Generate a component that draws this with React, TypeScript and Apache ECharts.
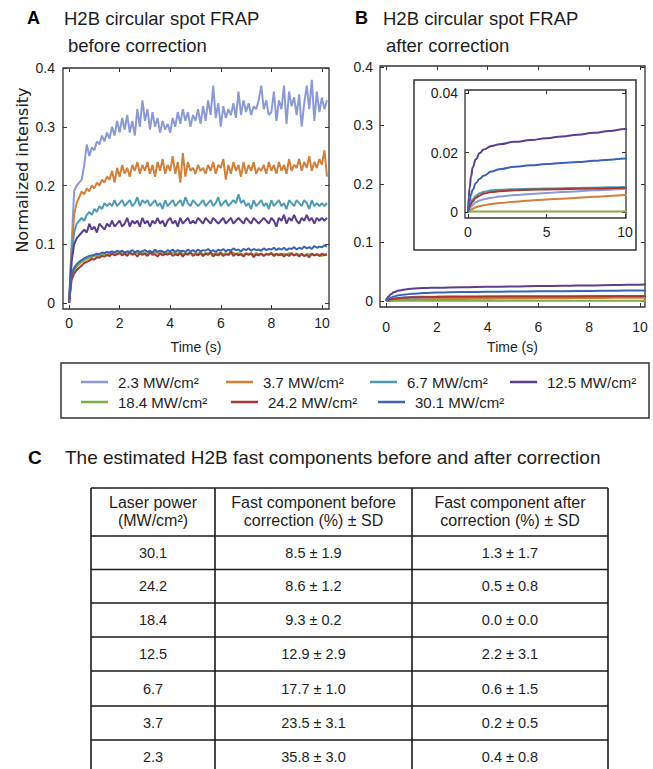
import React, { useEffect, useRef } from "react";
import * as echarts from "echarts";

// ---------- data ----------
const POWER_LABELS = [
  "2.3 MW/cm²",
  "3.7 MW/cm²",
  "6.7 MW/cm²",
  "12.5 MW/cm²",
  "18.4 MW/cm²",
  "24.2 MW/cm²",
  "30.1 MW/cm²",
];

// Panel A time samples (s)
const TIME_A = [
  0, 0.1, 0.2, 0.3, 0.4, 0.5, 0.6, 0.7, 0.8, 0.9,
  1.0, 1.1, 1.2, 1.3, 1.4, 1.5, 1.6, 1.7, 1.8, 1.9,
  2.0, 2.1, 2.2, 2.3, 2.4, 2.5, 2.6, 2.7, 2.8, 2.9,
  3.0, 3.1, 3.2, 3.3, 3.4, 3.5, 3.6, 3.7, 3.8, 3.9,
  4.0, 4.1, 4.2, 4.3, 4.4, 4.5, 4.6, 4.7, 4.8, 4.9,
  5.0, 5.1, 5.2, 5.3, 5.4, 5.5, 5.6, 5.7, 5.8, 5.9,
  6.0, 6.1, 6.2, 6.3, 6.4, 6.5, 6.6, 6.7, 6.8, 6.9,
  7.0, 7.1, 7.2, 7.3, 7.4, 7.5, 7.6, 7.7, 7.8, 7.9,
  8.0, 8.1, 8.2, 8.3, 8.4, 8.5, 8.6, 8.7, 8.8, 8.9,
  9.0, 9.1, 9.2, 9.3, 9.4, 9.5, 9.6, 9.7, 9.8, 9.9,
  10.0, 10.1, 10.2,
];

// Panel A: normalized intensity before correction
const RAW_2_3 = [
  0, 0.10, 0.19, 0.20, 0.205, 0.21, 0.235, 0.27, 0.25, 0.265,
  0.26, 0.275, 0.27, 0.285, 0.275, 0.29, 0.28, 0.30, 0.285, 0.31,
  0.29, 0.315, 0.295, 0.32, 0.29, 0.31, 0.285, 0.33, 0.30, 0.345,
  0.31, 0.33, 0.295, 0.325, 0.30, 0.315, 0.29, 0.31, 0.295, 0.305,
  0.29, 0.315, 0.30, 0.325, 0.305, 0.33, 0.31, 0.325, 0.30, 0.32,
  0.31, 0.33, 0.305, 0.335, 0.31, 0.345, 0.32, 0.37, 0.315, 0.34,
  0.30, 0.335, 0.315, 0.33, 0.32, 0.34, 0.315, 0.36, 0.32, 0.345,
  0.325, 0.34, 0.32, 0.335, 0.33, 0.345, 0.37, 0.33, 0.345, 0.32,
  0.325, 0.36, 0.31, 0.345, 0.33, 0.37, 0.305, 0.36, 0.335, 0.35,
  0.32, 0.355, 0.30, 0.34, 0.37, 0.33, 0.38, 0.31, 0.36, 0.325,
  0.35, 0.33, 0.345,
];
const RAW_3_7 = [
  0, 0.09, 0.15, 0.17, 0.18, 0.19, 0.185, 0.195, 0.19, 0.20,
  0.195, 0.205, 0.20, 0.21, 0.205, 0.215, 0.21, 0.225, 0.205, 0.23,
  0.215, 0.235, 0.22, 0.23, 0.215, 0.235, 0.225, 0.24, 0.22, 0.235,
  0.225, 0.24, 0.22, 0.235, 0.215, 0.24, 0.225, 0.245, 0.22, 0.235,
  0.225, 0.25, 0.22, 0.24, 0.205, 0.255, 0.215, 0.24, 0.225, 0.23,
  0.22, 0.235, 0.225, 0.23, 0.22, 0.235, 0.225, 0.24, 0.22, 0.235,
  0.23, 0.245, 0.21, 0.235, 0.22, 0.24, 0.225, 0.235, 0.215, 0.24,
  0.22, 0.235, 0.225, 0.24, 0.22, 0.23, 0.225, 0.235, 0.22, 0.24,
  0.225, 0.235, 0.22, 0.24, 0.225, 0.235, 0.22, 0.245, 0.225, 0.235,
  0.23, 0.245, 0.225, 0.24, 0.23, 0.25, 0.225, 0.24, 0.23, 0.245,
  0.235, 0.26, 0.215,
];
const RAW_6_7 = [
  0, 0.08, 0.12, 0.135, 0.14, 0.145, 0.14, 0.15, 0.155, 0.15,
  0.16, 0.155, 0.165, 0.16, 0.17, 0.165, 0.17, 0.165, 0.175, 0.165,
  0.17, 0.175, 0.165, 0.17, 0.175, 0.165, 0.17, 0.18, 0.165, 0.175,
  0.17, 0.175, 0.165, 0.17, 0.175, 0.165, 0.17, 0.16, 0.175, 0.165,
  0.17, 0.175, 0.165, 0.17, 0.175, 0.165, 0.18, 0.17, 0.165, 0.175,
  0.17, 0.165, 0.17, 0.175, 0.165, 0.17, 0.175, 0.165, 0.17, 0.18,
  0.165, 0.17, 0.175, 0.165, 0.17, 0.175, 0.17, 0.185, 0.17, 0.175,
  0.165, 0.17, 0.16, 0.175, 0.165, 0.17, 0.175, 0.165, 0.17, 0.16,
  0.175, 0.165, 0.17, 0.175, 0.165, 0.17, 0.16, 0.175, 0.17, 0.165,
  0.175, 0.17, 0.165, 0.175, 0.17, 0.16, 0.175, 0.165, 0.17, 0.165,
  0.17, 0.165, 0.17,
];
const RAW_12_5 = [
  0, 0.07, 0.10, 0.11, 0.115, 0.12, 0.125, 0.12, 0.135, 0.125,
  0.13, 0.12, 0.135, 0.13, 0.125, 0.135, 0.13, 0.14, 0.13, 0.135,
  0.14, 0.13, 0.135, 0.145, 0.13, 0.14, 0.135, 0.14, 0.13, 0.145,
  0.135, 0.14, 0.13, 0.14, 0.135, 0.145, 0.135, 0.14, 0.13, 0.14,
  0.145, 0.135, 0.14, 0.13, 0.145, 0.135, 0.14, 0.145, 0.135, 0.14,
  0.135, 0.145, 0.14, 0.135, 0.145, 0.14, 0.135, 0.145, 0.14, 0.135,
  0.14, 0.145, 0.135, 0.14, 0.145, 0.135, 0.14, 0.145, 0.14, 0.135,
  0.145, 0.14, 0.135, 0.145, 0.14, 0.135, 0.14, 0.145, 0.14, 0.135,
  0.145, 0.14, 0.13, 0.145, 0.14, 0.15, 0.135, 0.145, 0.14, 0.15,
  0.14, 0.135, 0.145, 0.14, 0.15, 0.14, 0.145, 0.135, 0.145, 0.14,
  0.145, 0.14, 0.145,
];
const RAW_18_4 = [
  0, 0.045, 0.055, 0.062, 0.066, 0.07, 0.072, 0.075, 0.076, 0.078,
  0.08, 0.081, 0.08, 0.083, 0.084, 0.082, 0.085, 0.084, 0.086, 0.084,
  0.086, 0.085, 0.087, 0.084, 0.086, 0.083, 0.087, 0.085, 0.084, 0.086,
  0.085, 0.083, 0.086, 0.084, 0.087, 0.085, 0.083, 0.086, 0.084, 0.085,
  0.083, 0.086, 0.085, 0.084, 0.087, 0.083, 0.085, 0.084, 0.086, 0.083,
  0.085, 0.084, 0.086, 0.082, 0.085, 0.084, 0.086, 0.083, 0.085, 0.084,
  0.086, 0.083, 0.085, 0.082, 0.084, 0.086, 0.083, 0.085, 0.084, 0.082,
  0.085, 0.083, 0.084, 0.082, 0.085, 0.083, 0.084, 0.081, 0.084, 0.083,
  0.085, 0.082, 0.084, 0.083, 0.081, 0.084, 0.082, 0.085, 0.083, 0.081,
  0.084, 0.082, 0.083, 0.08, 0.084, 0.082, 0.083, 0.081, 0.083, 0.082,
  0.08, 0.083, 0.082,
];
const RAW_24_2 = [
  0, 0.04, 0.05, 0.056, 0.06, 0.064, 0.068, 0.07, 0.072, 0.075,
  0.074, 0.078, 0.077, 0.08, 0.079, 0.082, 0.08, 0.084, 0.081, 0.083,
  0.085, 0.081, 0.084, 0.08, 0.086, 0.082, 0.084, 0.079, 0.085, 0.082,
  0.084, 0.08, 0.086, 0.082, 0.083, 0.079, 0.085, 0.081, 0.084, 0.082,
  0.086, 0.08, 0.083, 0.081, 0.085, 0.079, 0.084, 0.082, 0.086, 0.08,
  0.083, 0.081, 0.085, 0.08, 0.084, 0.082, 0.086, 0.079, 0.083, 0.081,
  0.085, 0.08, 0.083, 0.082, 0.088, 0.08, 0.084, 0.081, 0.083, 0.079,
  0.084, 0.082, 0.085, 0.078, 0.083, 0.081, 0.084, 0.08, 0.083, 0.082,
  0.085, 0.08, 0.083, 0.081, 0.084, 0.079, 0.083, 0.08, 0.085, 0.081,
  0.083, 0.079, 0.084, 0.08, 0.082, 0.078, 0.084, 0.081, 0.083, 0.08,
  0.084, 0.081, 0.083,
];
const RAW_30_1 = [
  0, 0.05, 0.06, 0.066, 0.07, 0.073, 0.076, 0.078, 0.08, 0.081,
  0.082, 0.084, 0.083, 0.086, 0.085, 0.087, 0.086, 0.088, 0.086, 0.089,
  0.087, 0.089, 0.086, 0.088, 0.087, 0.09, 0.086, 0.089, 0.087, 0.088,
  0.09, 0.087, 0.089, 0.086, 0.091, 0.087, 0.089, 0.088, 0.086, 0.09,
  0.088, 0.091, 0.087, 0.09, 0.088, 0.089, 0.087, 0.091, 0.088, 0.09,
  0.087, 0.091, 0.088, 0.09, 0.089, 0.092, 0.088, 0.09, 0.087, 0.091,
  0.089, 0.092, 0.088, 0.091, 0.089, 0.093, 0.09, 0.091, 0.088, 0.092,
  0.09, 0.093, 0.089, 0.092, 0.09, 0.091, 0.089, 0.093, 0.09, 0.092,
  0.091, 0.094, 0.09, 0.093, 0.091, 0.094, 0.09, 0.093, 0.092, 0.095,
  0.091, 0.094, 0.092, 0.096, 0.093, 0.095, 0.092, 0.097, 0.094, 0.096,
  0.095, 0.098, 0.096,
];

// Panel B: after correction (smooth fitted residuals)
const TIME_B = [0, 0.05, 0.1, 0.2, 0.3, 0.5, 0.75, 1, 1.5, 2, 3, 4, 5, 6, 7, 8, 9, 10, 10.3];
const FIT_2_3 = [0, 0.0006, 0.001, 0.0018, 0.0024, 0.0033, 0.0039, 0.0043, 0.0048, 0.0052, 0.0057, 0.0061, 0.0064, 0.0067, 0.007, 0.0073, 0.0075, 0.0078, 0.0078];
const FIT_3_7 = [0, 0.0002, 0.0004, 0.0008, 0.0011, 0.0016, 0.002, 0.0023, 0.0027, 0.003, 0.0035, 0.0039, 0.0042, 0.0045, 0.0048, 0.0051, 0.0054, 0.0057, 0.0058];
const FIT_6_7 = [0, 0.0012, 0.002, 0.0033, 0.0042, 0.0055, 0.0063, 0.0068, 0.0073, 0.0075, 0.0077, 0.0078, 0.0079, 0.008, 0.0081, 0.0082, 0.0083, 0.0084, 0.0084];
const FIT_12_5 = [0, 0.005, 0.008, 0.012, 0.015, 0.0177, 0.0198, 0.021, 0.0222, 0.0228, 0.0236, 0.0242, 0.0248, 0.0254, 0.026, 0.0266, 0.0272, 0.0279, 0.0281];
const FIT_18_4 = [0, 0.0001, 0.0001, 0.0002, 0.0002, 0.0002, 0.0002, 0.0002, 0.0002, 0.0002, 0.0002, 0.0002, 0.0002, 0.0002, 0.0002, 0.0002, 0.0002, 0.0002, 0.0002];
const FIT_24_2 = [0, 0.001, 0.0017, 0.0028, 0.0036, 0.0048, 0.0056, 0.0062, 0.0067, 0.007, 0.0073, 0.0075, 0.0076, 0.0077, 0.0078, 0.0079, 0.008, 0.0081, 0.0082];
const FIT_30_1 = [0, 0.002, 0.0035, 0.006, 0.0075, 0.0097, 0.0112, 0.0122, 0.0136, 0.0144, 0.0152, 0.0157, 0.0161, 0.0165, 0.0168, 0.0172, 0.0176, 0.018, 0.0181];

// Tick values
const MAIN_X_TICKS = [0, 2, 4, 6, 8, 10];
const MAIN_Y_TICKS = [0, 0.1, 0.2, 0.3, 0.4];
const INSET_X_TICKS = [0, 5, 10];
const INSET_Y_TICKS = [0, 0.02, 0.04];

// Panel C table
const TABLE_HEADERS = [
  ["Laser power", "(MW/cm²)"],
  ["Fast component before", "correction (%) ± SD"],
  ["Fast component after", "correction (%) ± SD"],
];
const TABLE_POWER = ["30.1", "24.2", "18.4", "12.5", "6.7", "3.7", "2.3"];
const BEFORE_MEAN = [8.5, 8.6, 9.3, 12.9, 17.7, 23.5, 35.8];
const BEFORE_SD = [1.9, 1.2, 0.2, 2.9, 1.0, 3.1, 3.0];
const AFTER_MEAN = [1.3, 0.5, 0.0, 2.2, 0.6, 0.2, 0.4];
const AFTER_SD = [1.7, 0.8, 0.0, 3.1, 1.5, 0.5, 0.8];

// ---------- styles ----------
const COLORS = ["#8b9ad4", "#d2803a", "#4f9bb3", "#5b3f8e", "#7fae45", "#a33a33", "#3d62b3"];
const FONT = "'Liberation Sans', Arial, Helvetica, sans-serif";
const AX = "#333333";
const TXT = "#1e1e1e";

const RAW_SETS = [RAW_2_3, RAW_3_7, RAW_6_7, RAW_12_5, RAW_18_4, RAW_24_2, RAW_30_1];
const FIT_SETS = [FIT_2_3, FIT_3_7, FIT_6_7, FIT_12_5, FIT_18_4, FIT_24_2, FIT_30_1];

const fmt = (v: number) => String(Math.round(v * 1000) / 1000);

function makeX(gridIndex: number, min: number, max: number, ticks: number[], margin: number, name?: string, nameGap?: number) {
  const tick = { show: true, inside: true, length: 4, customValues: ticks, lineStyle: { color: AX, width: 1 } };
  return [
    {
      type: "value", gridIndex, min, max, position: "bottom",
      splitLine: { show: false }, axisLine: { show: false, onZero: false },
      axisTick: tick,
      axisLabel: { show: true, customValues: ticks, margin, formatter: fmt, color: TXT, fontSize: 14, fontFamily: FONT },
      name, nameLocation: "middle", nameGap,
      nameTextStyle: { color: TXT, fontSize: 14, fontFamily: FONT },
    },
    {
      type: "value", gridIndex, min, max, position: "top",
      splitLine: { show: false }, axisLine: { show: false, onZero: false },
      axisTick: tick, axisLabel: { show: false },
    },
  ];
}

function makeY(gridIndex: number, min: number, max: number, ticks: number[], margin: number) {
  const tick = { show: true, inside: true, length: 4, customValues: ticks, lineStyle: { color: AX, width: 1 } };
  return [
    {
      type: "value", gridIndex, min, max, position: "left",
      splitLine: { show: false }, axisLine: { show: false, onZero: false },
      axisTick: tick,
      axisLabel: { show: true, customValues: ticks, margin, formatter: fmt, color: TXT, fontSize: 14, fontFamily: FONT },
    },
    {
      type: "value", gridIndex, min, max, position: "right",
      splitLine: { show: false }, axisLine: { show: false, onZero: false },
      axisTick: tick, axisLabel: { show: false },
    },
  ];
}

function buildOption() {
  const gridBase = { show: true, borderColor: AX, borderWidth: 1.3, backgroundColor: "transparent", containLabel: false };
  const grid = [
    { ...gridBase, left: 63, top: 68, width: 266, height: 241 },
    { ...gridBase, left: 380, top: 66, width: 265, height: 241 },
    { ...gridBase, left: 465, top: 90, width: 161, height: 128 },
  ];
  const xAxis = [
    ...makeX(0, -0.24, 10.28, MAIN_X_TICKS, 7, "Time (s)", 31),
    ...makeX(1, -0.24, 10.2, MAIN_X_TICKS, 13, "Time (s)", 33),
    ...makeX(2, -0.19, 10.06, INSET_X_TICKS, 7),
  ];
  const yAxis = [
    ...makeY(0, -0.0102, 0.4, MAIN_Y_TICKS, 8),
    ...makeY(1, -0.0103, 0.4017, MAIN_Y_TICKS, 7),
    ...makeY(2, -0.002, 0.041, INSET_Y_TICKS, 7),
  ];

  const series: any[] = [];
  RAW_SETS.forEach((vals, i) => {
    series.push({
      type: "line", name: POWER_LABELS[i], xAxisIndex: 0, yAxisIndex: 0,
      data: TIME_A.map((t, j) => [t, vals[j]]),
      symbol: "none", showSymbol: false, silent: true, clip: true,
      emphasis: { disabled: true },
      lineStyle: { color: COLORS[i], width: 2 }, itemStyle: { color: COLORS[i] },
    });
  });
  [2, 4].forEach((ax) => {
    FIT_SETS.forEach((vals, i) => {
      series.push({
        type: "line", name: POWER_LABELS[i], xAxisIndex: ax, yAxisIndex: ax,
        data: TIME_B.map((t, j) => [t, vals[j]]),
        smooth: true, smoothMonotone: "x",
        symbol: "none", showSymbol: false, silent: true, clip: true,
        emphasis: { disabled: true },
        lineStyle: { color: COLORS[i], width: 2 }, itemStyle: { color: COLORS[i] },
      });
    });
  });

  const LEGEND_POS = [[81, 373], [226, 373], [370, 373], [510, 373], [81, 393], [231, 393], [378, 393]];
  const legend = POWER_LABELS.map((n, i) => ({
    data: [n], left: LEGEND_POS[i][0], top: LEGEND_POS[i][1], orient: "horizontal",
    icon: "rect", itemWidth: 27, itemHeight: 2.5, padding: 0, selectedMode: false,
    textStyle: { fontSize: 15, fontFamily: FONT, color: TXT, padding: [0, 0, 0, 5], lineHeight: 18 },
  }));

  const graphic: any[] = [];
  const txt = (text: string, x: number, y: number, size: number, extra: any = {}) => ({
    type: "text", x, y, silent: true,
    style: { text, fontSize: size, fontFamily: FONT, fill: TXT, align: "left", verticalAlign: "middle", ...extra },
  });
  // panel titles
  graphic.push(txt("A", 27, 18, 18, { fontWeight: "bold", fill: "#000" }));
  graphic.push(txt("H2B circular spot FRAP", 64, 18, 18.5));
  graphic.push(txt("before correction", 68, 45, 18.5));
  graphic.push(txt("B", 355, 18, 18, { fontWeight: "bold", fill: "#000" }));
  graphic.push(txt("H2B circular spot FRAP", 383, 18, 18.5));
  graphic.push(txt("after correction", 386, 45, 18.5));
  // y axis name of panel A
  graphic.push({
    type: "text", x: 22, y: 170, rotation: Math.PI / 2, silent: true,
    style: { text: "Normalized intensity", fontSize: 16, fontFamily: "'DejaVu Sans', sans-serif", fill: TXT, align: "center", verticalAlign: "middle" },
  });
  // inset frame
  graphic.push({ type: "rect", shape: { x: 414, y: 80, width: 222, height: 170 }, silent: true, style: { fill: "none", stroke: AX, lineWidth: 1.5 } });
  // legend frame
  graphic.push({ type: "rect", shape: { x: 61, y: 363, width: 588, height: 55 }, silent: true, style: { fill: "none", stroke: AX, lineWidth: 1.5 } });

  // panel C
  graphic.push(txt("C", 28, 457, 19, { fontWeight: "bold", fill: "#000" }));
  graphic.push(txt("The estimated H2B fast components before and after correction", 65, 457, 19));
  const colX = [91, 215, 412, 608];
  const rowY = [488, 536, 569.5, 603, 637, 671, 706, 740, 774];
  const lineStyle = { stroke: "#1a1a1a", lineWidth: 1.6 };
  rowY.forEach((y) => graphic.push({ type: "line", silent: true, shape: { x1: colX[0], y1: y, x2: colX[3], y2: y }, style: lineStyle }));
  colX.forEach((x) => graphic.push({ type: "line", silent: true, shape: { x1: x, y1: rowY[0], x2: x, y2: 790 }, style: lineStyle }));
  TABLE_HEADERS.forEach((lines, c) => {
    const cx = (colX[c] + colX[c + 1]) / 2;
    graphic.push(txt(lines[0], cx, 502.5, 16, { align: "center" }));
    graphic.push(txt(lines[1], cx, 520, 16, { align: "center" }));
  });
  TABLE_POWER.forEach((p, r) => {
    const cy = (rowY[r + 1] + rowY[r + 2]) / 2;
    const cells = [
      p,
      `${BEFORE_MEAN[r].toFixed(1)} ± ${BEFORE_SD[r].toFixed(1)}`,
      `${AFTER_MEAN[r].toFixed(1)} ± ${AFTER_SD[r].toFixed(1)}`,
    ];
    cells.forEach((s, c) => {
      const cx = (colX[c] + colX[c + 1]) / 2;
      graphic.push(txt(s, cx, cy, 14.5, { align: "center" }));
    });
  });

  return {
    animation: false,
    backgroundColor: "#ffffff",
    textStyle: { fontFamily: FONT },
    grid, xAxis, yAxis, series, legend, graphic,
  };
}

export default function App() {
  const ref = useRef<HTMLDivElement>(null);
  useEffect(() => {
    if (!ref.current) return;
    const chart = echarts.init(ref.current, null, { renderer: "svg" });
    chart.setOption(buildOption() as any);
    return () => chart.dispose();
  }, []);
  return (
    <div
      ref={ref}
      style={{ position: "fixed", left: 0, top: 0, width: 653, height: 769, background: "#fff" }}
    />
  );
}
